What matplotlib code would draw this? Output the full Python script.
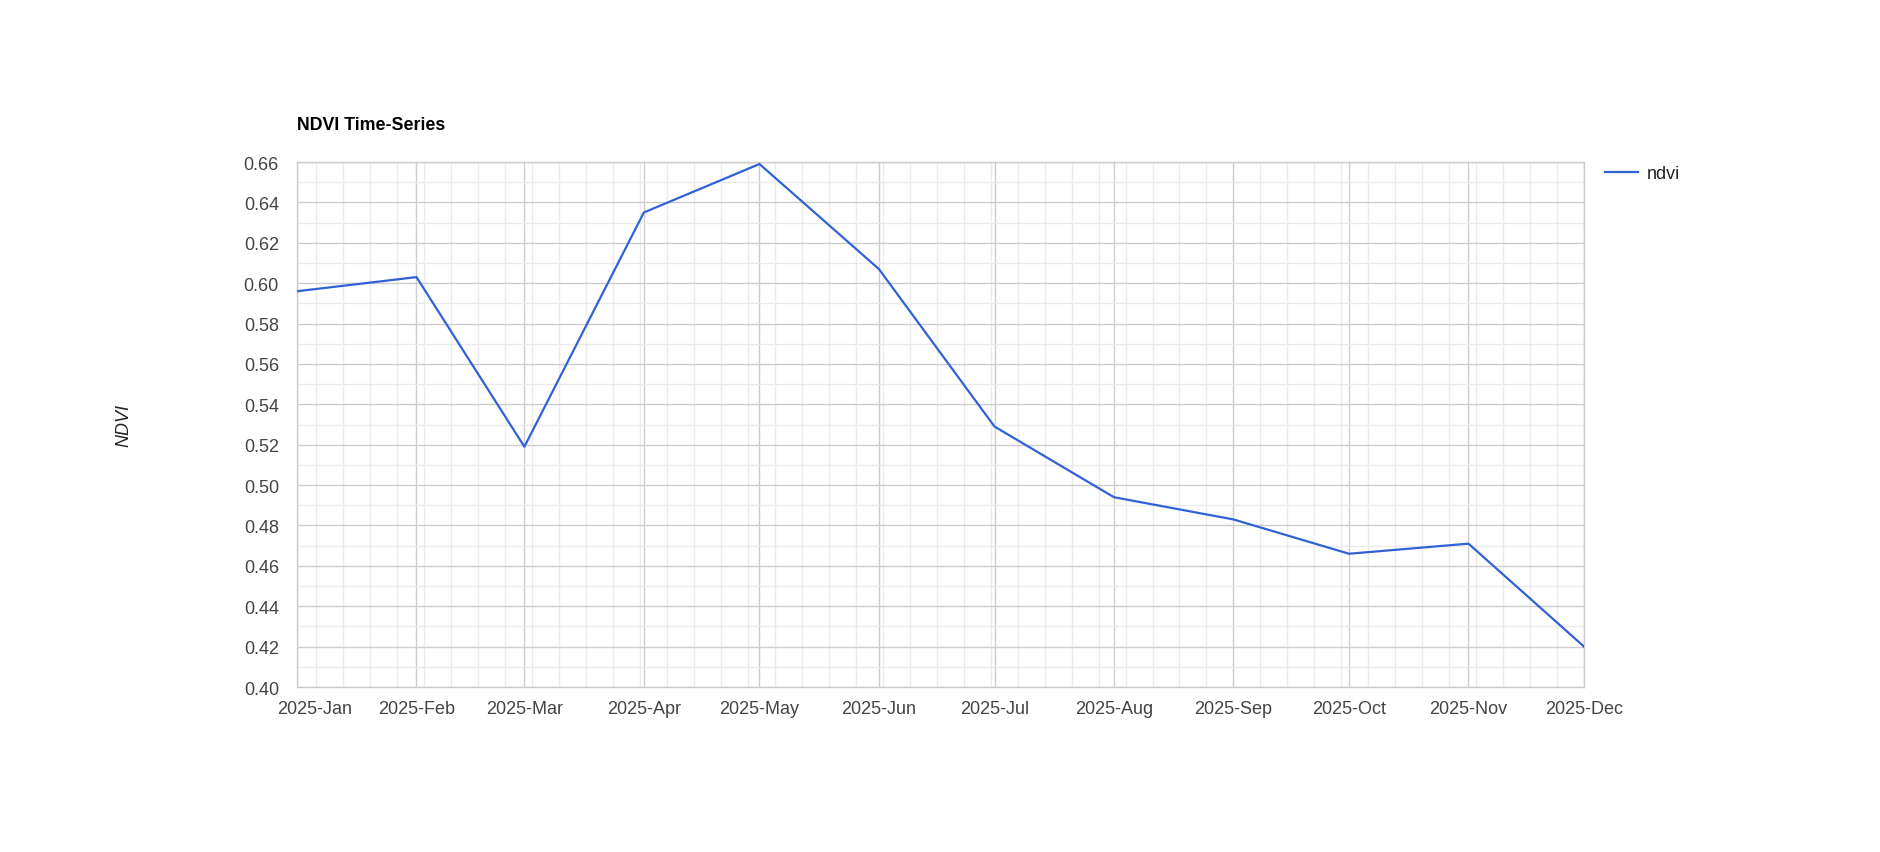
import matplotlib
matplotlib.use("Agg")
import matplotlib.pyplot as plt
import matplotlib.dates as mdates
from matplotlib.transforms import ScaledTranslation
import pandas as pd

# valeurs
months = ["2025-01-01", "2025-02-01", "2025-03-01", "2025-04-01", "2025-05-01", "2025-06-01",
          "2025-07-01", "2025-08-01", "2025-09-01", "2025-10-01", "2025-11-01", "2025-12-01"]
ndvi = [0.596, 0.603, 0.519, 0.635, 0.659, 0.607, 0.529, 0.494, 0.483, 0.466, 0.471, 0.420]
yticks = [0.40, 0.42, 0.44, 0.46, 0.48, 0.50, 0.52, 0.54, 0.56, 0.58, 0.60, 0.62, 0.64, 0.66]

dates = pd.to_datetime(months)

plt.rcParams['font.family'] = ['Liberation Sans', 'DejaVu Sans']

fig = plt.figure(figsize=(18.8, 8.53), dpi=100)
ax = fig.add_axes([0.158, 0.1934, 0.6846, 0.6155])

ax.plot(dates, ndvi, color="#3062d6", lw=1.6, label="ndvi", zorder=3)

ax.set_xlim(dates[0], dates[-1])
ax.set_ylim(0.40, 0.66)

ax.xaxis.set_major_locator(mdates.MonthLocator())
ax.xaxis.set_major_formatter(mdates.DateFormatter("%Y-%b"))
ax.xaxis.set_minor_locator(mdates.WeekdayLocator(byweekday=mdates.MO))
ax.set_yticks(yticks)
ax.set_yticks([v + 0.01 for v in yticks[:-1]], minor=True)
ax.yaxis.set_major_formatter(plt.FormatStrFormatter("%.2f"))

ax.grid(which="major", color="#cccccc", lw=1.0)
ax.grid(which="minor", color="#ebebeb", lw=1.0)
ax.set_axisbelow(True)
for s in ax.spines.values():
    s.set_color("#cccccc")
    s.set_linewidth(1.0)

ax.tick_params(which="both", length=0)
ax.tick_params(axis="x", pad=9, labelsize=13, labelcolor="#444444")
ax.tick_params(axis="y", pad=13, labelsize=13, labelcolor="#444444")

# décale le premier label comme dans l'original
lab0 = ax.get_xticklabels()[0]
lab0.set_transform(lab0.get_transform() + ScaledTranslation(0.18, 0, fig.dpi_scale_trans))

ax.set_ylabel("NDVI", fontsize=13, fontstyle="italic", color="#222222", labelpad=0)
ax.yaxis.set_label_coords(-0.128, 0.5)

fig.text(0.158, 0.853, "NDVI Time-Series", fontsize=12.8, fontweight="bold", color="#000000",
         va="center", ha="left")

ax.legend(loc="upper left", bbox_to_anchor=(1.004, 1.025), frameon=False, fontsize=13,
          handlelength=1.8, handletextpad=0.5, labelcolor="#222222")

fig.savefig("out.png", dpi=100)
